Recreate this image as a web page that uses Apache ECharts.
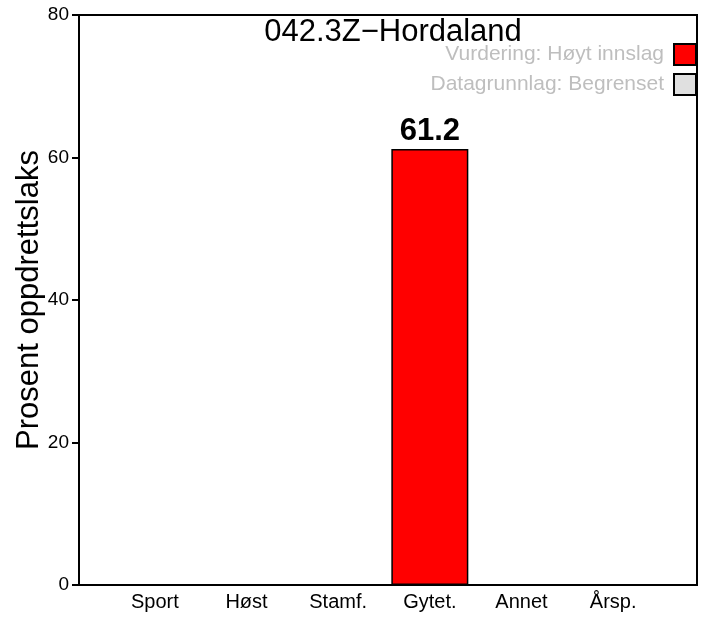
<!DOCTYPE html>
<html lang="no">
<head>
    <meta charset="UTF-8">
    <title>042.3Z-Hordaland</title>
    <script src="https://cdn.jsdelivr.net/npm/echarts@6/dist/echarts.min.js"></script>
    <style>
        html, body { margin: 0; padding: 0; background: #fff; }
        #main { width: 706px; height: 621px; }
    </style>
</head>
<body>
<div id="main"></div>
<script>
    // data
    var categories = ['Sport', 'Høst', 'Stamf.', 'Gytet.', 'Annet', 'Årsp.'];
    var andel = [null, null, null, 61.2, null, null];
    var yTicks = [0, 20, 40, 60, 80];
    var legendNames = ['Vurdering: Høyt innslag', 'Datagrunnlag: Begrenset'];
    var subtitle = '042.3Z\u2212Hordaland';
    var yName = 'Prosent oppdrettslaks';

    var font = '"Liberation Sans", Arial, sans-serif';
    var myChart = echarts.init(document.getElementById('main'));

    var option = {
        backgroundColor: '#fff',
        animation: false,
        textStyle: {fontFamily: font},
        title: {
            text: subtitle,
            left: 388,
            textAlign: 'center',
            top: 12,
            textStyle: {fontSize: 31, fontWeight: 'normal', color: '#000', fontFamily: font}
        },
        legend: {
            data: legendNames,
            orient: 'vertical',
            right: 9,
            top: 43,
            padding: 0,
            align: 'right',
            icon: 'rect',
            itemWidth: 22,
            itemHeight: 21,
            itemGap: 7,
            selectedMode: false,
            textStyle: {color: '#bebebe', fontSize: 21, fontFamily: font, padding: [0, 5, 0, 0]}
        },
        grid: [
            // frame + y axis
            {left: 79, right: 9, top: 15, bottom: 36, show: true, borderColor: '#000', borderWidth: 2},
            // bars
            {left: 109, right: 47, top: 15, bottom: 36}
        ],
        xAxis: [
            {gridIndex: 0, type: 'value', show: false, min: 0, max: 1},
            {
                gridIndex: 1,
                type: 'category',
                data: categories,
                axisLine: {show: false},
                axisTick: {show: false},
                axisLabel: {color: '#000', fontSize: 20, margin: 7, fontFamily: font}
            }
        ],
        yAxis: [
            {
                gridIndex: 0,
                type: 'value',
                min: yTicks[0],
                max: yTicks[yTicks.length - 1],
                interval: yTicks[1] - yTicks[0],
                name: yName,
                nameLocation: 'middle',
                nameGap: 34,
                nameMoveOverlap: false,
                nameTextStyle: {color: '#000', fontSize: 31, fontFamily: font},
                axisLine: {show: true, lineStyle: {color: '#000', width: 2}},
                axisTick: {show: true, length: 7, lineStyle: {color: '#000', width: 2}},
                axisLabel: {color: '#000', fontSize: 19, margin: 10, fontFamily: font},
                splitLine: {show: false}
            },
            {gridIndex: 1, type: 'value', show: false, min: 0, max: 80}
        ],
        series: [
            {
                name: legendNames[0],
                type: 'bar',
                xAxisIndex: 1,
                yAxisIndex: 1,
                data: andel,
                barWidth: '84%',
                barGap: '-100%',
                itemStyle: {color: '#ff0000', borderColor: '#000', borderWidth: 1.5},
                label: {
                    show: true,
                    position: 'top',
                    distance: 2,
                    color: '#000',
                    fontSize: 31,
                    fontWeight: 'bold',
                    fontFamily: font
                }
            },
            {
                name: legendNames[1],
                type: 'bar',
                xAxisIndex: 1,
                yAxisIndex: 1,
                data: [],
                barWidth: '84%',
                barGap: '-100%',
                itemStyle: {color: '#e0e0e0', borderColor: '#000', borderWidth: 1.5}
            }
        ]
    };

    myChart.setOption(option);
</script>
</body>
</html>
